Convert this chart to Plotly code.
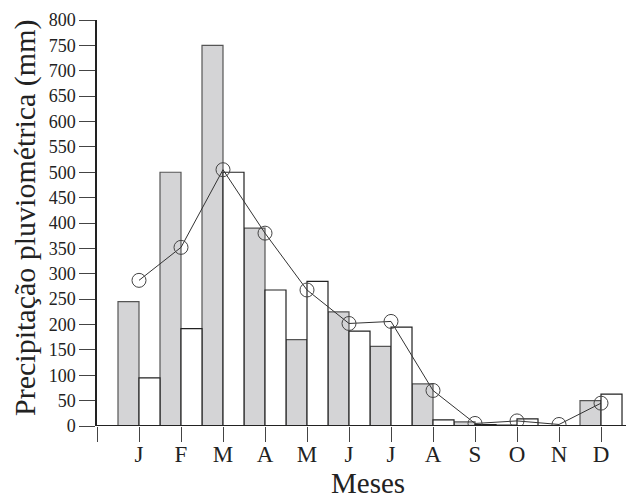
import plotly.graph_objects as go

months = ["J", "F", "M", "A", "M", "J", "J", "A", "S", "O", "N", "D"]
month_pos = list(range(1, 13))
grey_bars = [245, 500, 750, 390, 170, 225, 157, 83, 8, 2, 0, 50]
white_bars = [95, 192, 500, 268, 285, 187, 195, 12, 3, 14, 0, 63]
line_vals = [287, 352, 505, 380, 268, 202, 206, 70, 5, 10, 3, 45]
y_ticks = list(range(0, 801, 50))

serif = "Times New Roman, Liberation Serif, serif"

fig = go.Figure()
fig.add_trace(go.Bar(
    x=month_pos, y=grey_bars, width=0.5, offset=-0.5,
    marker=dict(color="#d4d4d6", line=dict(color="#555555", width=1.2)),
    showlegend=False,
))
fig.add_trace(go.Bar(
    x=month_pos, y=white_bars, width=0.5, offset=0,
    marker=dict(color="white", line=dict(color="#222222", width=1.2)),
    showlegend=False,
))
fig.add_trace(go.Scatter(
    x=month_pos, y=line_vals, mode="lines+markers",
    line=dict(color="#333333", width=1),
    marker=dict(symbol="circle-open", size=14, color="#444444", line=dict(width=1)),
    showlegend=False,
))

fig.update_layout(
    width=626, height=502,
    margin=dict(l=97, r=0, t=20, b=76),
    plot_bgcolor="white", paper_bgcolor="white",
    barmode="overlay",
    font=dict(family=serif, color="#222222"),
    xaxis=dict(
        range=[0, 12.595], automargin=False,
        tickmode="array", tickvals=[0] + month_pos, ticktext=[""] + months,
        ticks="outside", ticklen=15, tickcolor="#444444", tickwidth=1,
        ticklabelstandoff=-8,
        showline=False, showgrid=False, zeroline=False,
        tickfont=dict(family=serif, size=23, color="#222222"),
    ),
    yaxis=dict(
        range=[0, 800], automargin=False,
        tickmode="array", tickvals=y_ticks,
        ticks="outside", ticklen=16, tickcolor="#444444", tickwidth=1,
        showline=True, linecolor="#222222", linewidth=1.5,
        showgrid=False, zeroline=False,
        tickfont=dict(family=serif, size=18, color="#222222"),
    ),
    annotations=[
        dict(text="Meses", xref="paper", yref="paper", x=(368 - 97) / 529, y=(426 - 501) / 406,
             xanchor="center", yanchor="bottom", showarrow=False,
             font=dict(family=serif, size=29, color="#222222")),
        dict(text="Precipitação pluviométrica (mm)", xref="paper", yref="paper",
             x=(25 - 97) / 529, y=(426 - 218) / 406, textangle=-90,
             xanchor="center", yanchor="middle", showarrow=False,
             font=dict(family=serif, size=30, color="#222222")),
    ],
)
fig.add_shape(type="line", xref="paper", yref="y", x0=0, x1=1, y0=0, y1=0,
              line=dict(color="#222222", width=2))

fig.write_html("out.html", config={"displayModeBar": False},
               post_script="document.body.style.margin='0';")
